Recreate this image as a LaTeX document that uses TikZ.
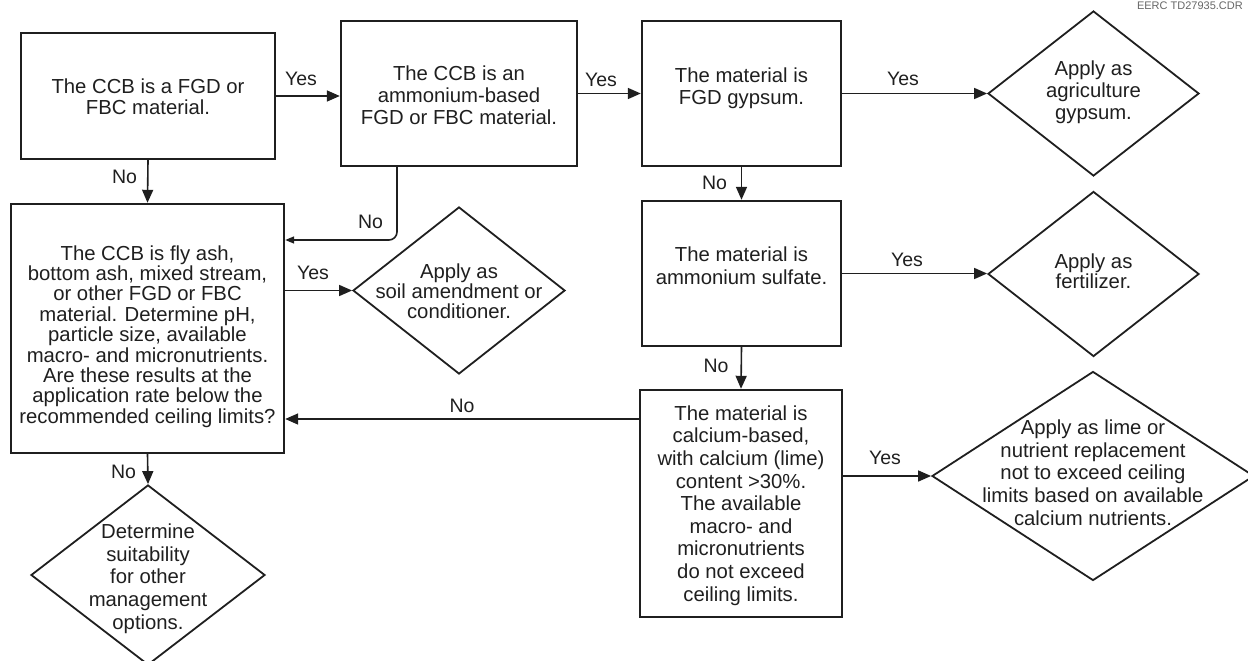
\documentclass[tikz,border=0pt]{standalone}
\usepackage{fontspec}
\setmainfont{Liberation Sans}
\usetikzlibrary{shapes.geometric,arrows.meta,calc}
\begin{document}
\begin{tikzpicture}[x=1pt,y=-1pt,
  box/.style={draw=black!88, line width=2.4pt, rectangle, inner sep=0pt},
  dia/.style={draw=black!88, line width=1.8pt, diamond, inner sep=0pt},
  txt/.style={align=center, inner sep=0pt, text=black!88},
  lab/.style={font=\fontsize{19.5}{20}\selectfont, inner sep=0pt, text=black!88},
  arr/.style={draw=black!88, line width=1.6pt, -{Triangle[length=13pt,width=11pt]}},
  arrsmall/.style={draw=black!88, line width=1.6pt, -{Triangle[length=9pt,width=7pt]}},
]
\useasboundingbox (0,0) rectangle (1248,661);

% code in the corner
\node[anchor=base east, inner sep=0pt, font=\fontsize{11}{11}\selectfont, text=black!60] (code) at (1243,9.5) {EERC TD27935.CDR};

% boxes
\node[box, minimum width=254pt, minimum height=126pt,
  label={[txt, font=\fontsize{20.3}{20.7}\selectfont, yshift=-1pt]center:{The CCB is a FGD or\\FBC material.}}] (A) at (148,96) {};
\node[box, minimum width=236pt, minimum height=145pt,
  label={[txt, font=\fontsize{20.3}{22}\selectfont, yshift=-1.5pt]center:{The CCB is an\\ammonium-based\\FGD or FBC material.}}] (B) at (459,93.5) {};
\node[box, minimum width=199pt, minimum height=145pt,
  label={[txt, font=\fontsize{20.3}{22}\selectfont, yshift=5.5pt]center:{The material is\\FGD gypsum.}}] (C) at (741.5,93.5) {};
\node[box, minimum width=199pt, minimum height=145pt,
  label={[txt, font=\fontsize{20.3}{23}\selectfont, yshift=8pt]center:{The material is\\ammonium sulfate.}}] (E) at (741.5,273.5) {};
\node[box, minimum width=202pt, minimum height=227pt,
  label={[txt, font=\fontsize{20.3}{22.6}\selectfont, yshift=-2pt]center:{The material is\\calcium-based,\\with calcium (lime)\\content >30\%.\\The available\\macro- and\\micronutrients\\do not exceed\\ceiling limits.}}] (F) at (741,503.5) {};
\node[box, minimum width=273pt, minimum height=249pt,
  label={[txt, font=\fontsize{20.3}{20.4}\selectfont, yshift=-8pt]center:{The CCB is fly ash,\\bottom ash, mixed stream,\\or other FGD or FBC\\material. Determine pH,\\particle size, available\\macro- and micronutrients.\\Are these results at the\\application rate below the\\recommended ceiling limits?}}] (G) at (147.5,328.5) {};

% diamonds
\node[dia, minimum width=211pt, minimum height=165pt,
  label={[txt, font=\fontsize{20.3}{22}\selectfont, yshift=1.5pt]center:{Apply as\\agriculture\\gypsum.}}] (d1) at (1093.5,93.5) {};
\node[dia, minimum width=211pt, minimum height=165pt,
  label={[txt, font=\fontsize{20.3}{20}\selectfont, yshift=2.3pt]center:{Apply as\\fertilizer.}}] (d2) at (1093.5,274) {};
\node[dia, minimum width=212pt, minimum height=167pt,
  label={[txt, font=\fontsize{20.3}{20}\selectfont, yshift=-1pt]center:{Apply as\\soil amendment or\\conditioner.}}] (d3) at (459,290.5) {};
\node[dia, minimum width=234pt, minimum height=180pt,
  label={[txt, font=\fontsize{20.3}{22.75}\selectfont, yshift=-3.5pt]center:{Determine\\suitability\\for other\\management\\options.}}] (d4) at (148,575) {};
\node[dia, minimum width=322pt, minimum height=209pt,
  label={[txt, font=\fontsize{20.3}{22.75}\selectfont, yshift=3.5pt]center:{Apply as lime or\\nutrient replacement\\not to exceed ceiling\\limits based on available\\calcium nutrients.}}] (d5) at (1093,476) {};

% connectors
\draw[arr] (A.east) -- (A.east -| B.west);
\draw[arr] (B.east) -- (B.east -| C.west);
\draw[arr] (C.east) -- (C.east -| d1.west);
\draw[arr] (C.south) -- (E.north);
\draw[arr] (E.east) -- (E.east -| d2.west);
\draw[arr] (E.south) -- (F.north);
\draw[arr] (F.east |- d5.west) -- (d5.west);
\draw[arr] ([yshift=84.5pt]F.west) -- ([yshift=84.5pt]F.west -| G.east);
\draw[arr] (A.south) -- (G.north);
\draw[arr] (G.south) -- (d4.north);
\draw[arr] (G.east |- d3.west) -- (d3.west);
\draw[arrsmall, rounded corners=8pt] ([xshift=-62pt]B.south) |- ([yshift=88.5pt]G.east);

% connector labels
\node[lab] (l1) at (301,79) {Yes};
\node[lab] (l2) at (601,80) {Yes};
\node[lab] (l3) at (903,79) {Yes};
\node[lab] (l4) at (714.5,183) {No};
\node[lab] (l5) at (907,260) {Yes};
\node[lab] (l6) at (716,366) {No};
\node[lab] (l7) at (885,458) {Yes};
\node[lab] (l8) at (462,406) {No};
\node[lab] (l9) at (124.5,177) {No};
\node[lab] (l10) at (370.5,222) {No};
\node[lab] (l11) at (313,273) {Yes};
\node[lab] (l12) at (123.5,471.5) {No};
\end{tikzpicture}
\end{document}
